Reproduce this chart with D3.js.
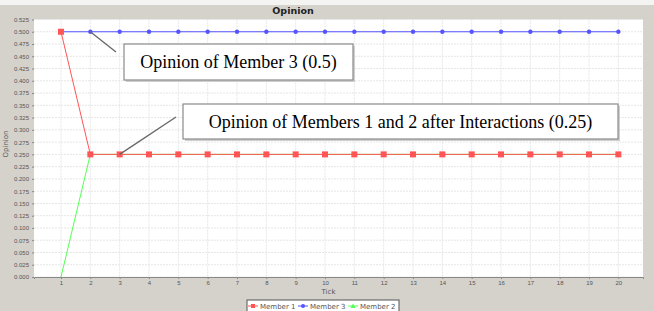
<!DOCTYPE html>
<html>
<head>
<meta charset="utf-8">
<script src="https://cdn.jsdelivr.net/npm/d3@7"></script>
<style>
  body { margin: 0; background: #d5d2cc; }
  svg { display: block; font-family: "DejaVu Sans", sans-serif; }
  .grid line { stroke: #e6e6e6; stroke-width: 1; stroke-dasharray: 2,1; }
  .axis text { font-size: 6px; fill: #555; }
  .axis line, .axis path { stroke: #888; }
  .note text { font-family: "Liberation Serif", serif; font-size: 18px; fill: #000; }
</style>
</head>
<body>
<div id="target_div"></div>
<script>
var W = 654, H = 311;
var plot = {left: 34, top: 19.5, right: 643, bottom: 277};

var ticks = [1, 2, 3, 4, 5, 6, 7, 8, 9, 10, 11, 12, 13, 14, 15, 16, 17, 18, 19, 20];
var member1 = [0.5, 0.25, 0.25, 0.25, 0.25, 0.25, 0.25, 0.25, 0.25, 0.25, 0.25, 0.25, 0.25, 0.25, 0.25, 0.25, 0.25, 0.25, 0.25, 0.25];
var member3 = [0.5, 0.5, 0.5, 0.5, 0.5, 0.5, 0.5, 0.5, 0.5, 0.5, 0.5, 0.5, 0.5, 0.5, 0.5, 0.5, 0.5, 0.5, 0.5, 0.5];
var member2 = [0, 0.25, 0.25, 0.25, 0.25, 0.25, 0.25, 0.25, 0.25, 0.25, 0.25, 0.25, 0.25, 0.25, 0.25, 0.25, 0.25, 0.25, 0.25, 0.25];
var yTicks = d3.range(0, 0.526, 0.025);

// drawing order: last one ends on top
var series = [
  {name: 'Member 2', values: member2, color: '#55ff55', shape: 'none'},
  {name: 'Member 3', values: member3, color: '#5555ff', shape: 'circle'},
  {name: 'Member 1', values: member1, color: '#ff5555', shape: 'square'}
];
var legendOrder = ['Member 1', 'Member 3', 'Member 2'];
var legendShapes = {'Member 1': 'square', 'Member 3': 'circle', 'Member 2': 'triangle'};

var x = d3.scaleLinear().domain([0.08, 20.84]).range([plot.left, plot.right]);
var y = d3.scaleLinear().domain([0, 0.525]).range([plot.bottom, plot.top]);

var svg = d3.select('#target_div').append('svg')
  .attr('width', W).attr('height', H);

// light strip on top
svg.append('rect').attr('width', W).attr('height', 5).attr('fill', '#f4f4f2');

svg.append('text')
  .attr('x', 293).attr('y', 14)
  .attr('text-anchor', 'middle')
  .style('font-weight', 'bold').style('font-size', '9.5px').style('fill', '#222')
  .text('Opinion');

svg.append('rect')
  .attr('x', plot.left).attr('y', plot.top)
  .attr('width', plot.right - plot.left).attr('height', plot.bottom - plot.top)
  .attr('fill', '#fff');

// gridlines
var grid = svg.append('g').attr('class', 'grid');
grid.selectAll('.gx').data(ticks).enter().append('line')
  .attr('x1', d => x(d)).attr('x2', d => x(d))
  .attr('y1', plot.top).attr('y2', plot.bottom);
grid.selectAll('.gy').data(yTicks).enter().append('line')
  .attr('x1', plot.left).attr('x2', plot.right)
  .attr('y1', d => y(d)).attr('y2', d => y(d));

// axes
var xAxis = d3.axisBottom(x).tickValues(ticks).tickSize(2).tickPadding(1.5).tickFormat(d3.format('d'));
var yAxis = d3.axisLeft(y).tickValues(yTicks).tickSize(2).tickPadding(3).tickFormat(d3.format('.3f'));
svg.append('g').attr('class', 'axis')
  .attr('transform', `translate(0, ${plot.bottom})`)
  .call(xAxis)
  .call(g => g.select('.domain').attr('stroke', '#888'));
svg.append('g').attr('class', 'axis')
  .attr('transform', `translate(${plot.left}, 0)`)
  .call(yAxis)
  .call(g => g.select('.domain').remove());

svg.append('text')
  .attr('x', (plot.left + plot.right) / 2 - 10).attr('y', 294)
  .attr('text-anchor', 'middle')
  .style('font-size', '7px').style('fill', '#555')
  .text('Tick');
svg.append('text')
  .attr('transform', 'translate(8, 144) rotate(-90)')
  .attr('text-anchor', 'middle')
  .style('font-size', '7px').style('fill', '#555')
  .text('Opinion');

// lines and markers
var line = d3.line().x((d, i) => x(ticks[i])).y(d => y(d));
series.forEach(function (s) {
  svg.append('path')
    .attr('d', line(s.values))
    .attr('fill', 'none').attr('stroke', s.color).attr('stroke-width', 1);
  if (s.shape === 'square') {
    svg.selectAll(null).data(s.values).enter().append('rect')
      .attr('x', (d, i) => x(ticks[i]) - 3).attr('y', d => y(d) - 3)
      .attr('width', 6).attr('height', 6).attr('fill', s.color);
  } else if (s.shape === 'circle') {
    svg.selectAll(null).data(s.values).enter().append('circle')
      .attr('cx', (d, i) => x(ticks[i])).attr('cy', d => y(d))
      .attr('r', 2.2).attr('fill', s.color);
  }
});

// annotations
function note(x0, y0, w, h, txt, lx1, ly1, lx2, ly2) {
  var g = svg.append('g').attr('class', 'note');
  g.append('line')
    .attr('x1', lx1).attr('y1', ly1).attr('x2', lx2).attr('y2', ly2)
    .attr('stroke', '#666').attr('stroke-width', 1.3);
  g.append('rect').attr('x', x0 + 2).attr('y', y0 + 2).attr('width', w).attr('height', h)
    .attr('fill', '#cfcfcf');
  g.append('rect').attr('x', x0).attr('y', y0).attr('width', w).attr('height', h)
    .attr('fill', '#fff').attr('stroke', '#8a8a8a').attr('stroke-width', 1.2);
  g.append('text').attr('x', x0 + w / 2).attr('y', y0 + h / 2 + 6)
    .attr('text-anchor', 'middle').text(txt);
}
note(124, 44, 229, 36, 'Opinion of Member 3 (0.5)', x(2), y(0.5), 116, 52);
note(183, 104, 435, 35, 'Opinion of Members 1 and 2 after Interactions (0.25)', x(3), y(0.25), 176, 117);

// legend
var lg = svg.append('g');
lg.append('rect').attr('x', 247).attr('y', 300).attr('width', 152).attr('height', 13)
  .attr('fill', '#fff').attr('stroke', '#555').attr('stroke-width', 1);
var colorOf = {};
series.forEach(s => colorOf[s.name] = s.color);
legendOrder.forEach(function (name, i) {
  var cx = 253 + i * 50, cy = 306;
  lg.append('line').attr('x1', cx - 5).attr('x2', cx + 5).attr('y1', cy).attr('y2', cy)
    .attr('stroke', colorOf[name]);
  var sh = legendShapes[name];
  if (sh === 'square') {
    lg.append('rect').attr('x', cx - 2).attr('y', cy - 2).attr('width', 4).attr('height', 4).attr('fill', colorOf[name]);
  } else if (sh === 'circle') {
    lg.append('circle').attr('cx', cx).attr('cy', cy).attr('r', 2).attr('fill', colorOf[name]);
  } else {
    lg.append('path').attr('d', `M${cx},${cy - 2.5}L${cx + 2.5},${cy + 2}L${cx - 2.5},${cy + 2}Z`).attr('fill', colorOf[name]);
  }
  lg.append('text').attr('x', cx + 7).attr('y', cy + 2.5)
    .style('font-size', '7px').style('fill', '#555').text(name);
});
</script>
</body>
</html>
